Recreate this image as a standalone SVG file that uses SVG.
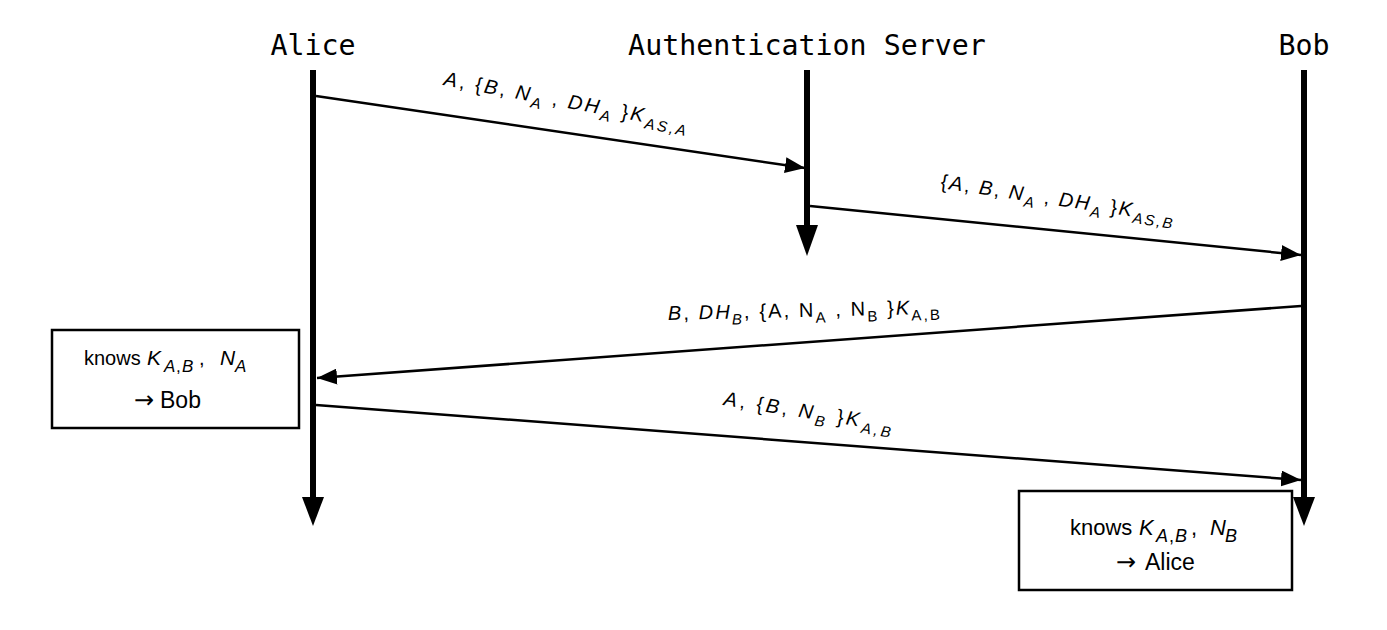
<svg xmlns="http://www.w3.org/2000/svg" width="1387" height="630" viewBox="0 0 1387 630">
<style>
.title{font-family:"DejaVu Sans Mono",monospace;font-size:28.3px;fill:#000;text-anchor:middle}
.life{stroke:#000;stroke-width:6;fill:none}
.head{fill:#000}
.msg{stroke:#000;stroke-width:2.5;fill:none}
.lbl{font-family:"Liberation Sans",Arial,sans-serif;font-size:20px;fill:#000}
.box{fill:#fff;stroke:#000;stroke-width:2.5}
.btxt{font-family:"Liberation Sans",Arial,sans-serif;fill:#000}
.arrow{font-family:"DejaVu Sans",sans-serif;font-size:24px}
.i{font-style:italic}
.s{font-size:15px}
</style>
<defs>
<marker id="arr" markerUnits="userSpaceOnUse" markerWidth="20" markerHeight="16" refX="20" refY="8" orient="auto">
<path d="M0,0 L20,8 L0,16 z" fill="#000"/>
</marker>
</defs>
<rect width="1387" height="630" fill="#fff"/>
<g id="alice">
<text class="title" x="313" y="55">Alice</text>
<line class="life" x1="313" y1="70" x2="313" y2="500"/>
<polygon class="head" points="302,497 324,497 313,526"/>
</g>
<g id="server">
<text class="title" x="807" y="55">Authentication Server</text>
<line class="life" x1="807" y1="70" x2="807" y2="228"/>
<polygon class="head" points="796,225 818,225 807,256"/>
</g>
<g id="bob">
<text class="title" x="1304" y="55">Bob</text>
<line class="life" x1="1304" y1="70" x2="1304" y2="500"/>
<polygon class="head" points="1293,497 1315,497 1304,526"/>
</g>
<g id="connectors">
<line class="msg" x1="316" y1="96" x2="805" y2="168" marker-end="url(#arr)"/>
<line class="msg" x1="810" y1="206" x2="1301" y2="255" marker-end="url(#arr)"/>
<line class="msg" x1="1301" y1="306" x2="317" y2="378" marker-end="url(#arr)"/>
<line class="msg" x1="316" y1="405" x2="1301" y2="480" marker-end="url(#arr)"/>
<text class="lbl" x="443" y="85" transform="rotate(10.5 443 85)" textLength="247" lengthAdjust="spacing"><tspan class="i">A</tspan>, {<tspan class="i">B</tspan>, <tspan class="i">N</tspan><tspan class="i s" dy="6">A</tspan><tspan dy="-6"> , </tspan><tspan class="i">DH</tspan><tspan class="i s" dy="6">A</tspan><tspan dy="-6"> }</tspan><tspan class="i">K</tspan><tspan class="i s" dy="6">AS,A</tspan></text>
<text class="lbl" x="940" y="188" transform="rotate(8.5 940 188)" textLength="235" lengthAdjust="spacing">{<tspan class="i">A</tspan>, <tspan class="i">B</tspan>, <tspan class="i">N</tspan><tspan class="i s" dy="6">A</tspan><tspan dy="-6"> , </tspan><tspan class="i">DH</tspan><tspan class="i s" dy="6">A</tspan><tspan dy="-6"> }</tspan><tspan class="i">K</tspan><tspan class="i s" dy="6">AS,B</tspan></text>
<text class="lbl" x="668" y="320" transform="rotate(-1.3 668 320)" textLength="272" lengthAdjust="spacing"><tspan class="i">B</tspan>, <tspan class="i">DH</tspan><tspan class="i s" dy="6">B</tspan><tspan dy="-6">, {A, N</tspan><tspan class="s" dy="6">A</tspan><tspan dy="-6"> , N</tspan><tspan class="s" dy="6">B</tspan><tspan dy="-6"> }</tspan><tspan class="i">K</tspan><tspan class="s" dy="6">A,B</tspan></text>
<text class="lbl" x="723" y="405" transform="rotate(9 723 405)" textLength="170" lengthAdjust="spacing"><tspan class="i">A</tspan>, {<tspan class="i">B</tspan>, <tspan class="i">N</tspan><tspan class="i s" dy="6">B</tspan><tspan dy="-6"> }</tspan><tspan class="i">K</tspan><tspan class="i s" dy="6">A,B</tspan></text>
</g>
<g id="alice-note">
<rect class="box" x="52" y="330" width="247" height="98"/>
<text class="btxt" font-size="20" y="365"><tspan x="84">knows</tspan><tspan class="i" x="147" font-size="21">K</tspan><tspan class="i" font-size="17" x="164" y="372">A</tspan><tspan font-size="17" x="176" y="372">,</tspan><tspan class="i" font-size="17" x="182" y="372">B</tspan><tspan x="199" y="365">,</tspan><tspan class="i" font-size="21" x="220">N</tspan><tspan class="i" font-size="17" x="235" y="372">A</tspan></text>
<text class="btxt" font-size="23" y="408"><tspan class="arrow" x="134">→</tspan><tspan x="160">Bob</tspan></text>
</g>
<g id="bob-note">
<rect class="box" x="1019" y="491" width="273" height="99"/>
<text class="btxt" font-size="22" y="535"><tspan x="1070">knows</tspan><tspan class="i" x="1139" font-size="22">K</tspan><tspan class="i" font-size="18" x="1156" y="542">A</tspan><tspan font-size="18" x="1169" y="542">,</tspan><tspan class="i" font-size="18" x="1175" y="542">B</tspan><tspan x="1191" y="535">,</tspan><tspan class="i" font-size="22" x="1210">N</tspan><tspan class="i" font-size="18" x="1225" y="542">B</tspan></text>
<text class="btxt" font-size="23" y="570"><tspan class="arrow" x="1116">→</tspan><tspan x="1145">Alice</tspan></text>
</g>
</svg>
